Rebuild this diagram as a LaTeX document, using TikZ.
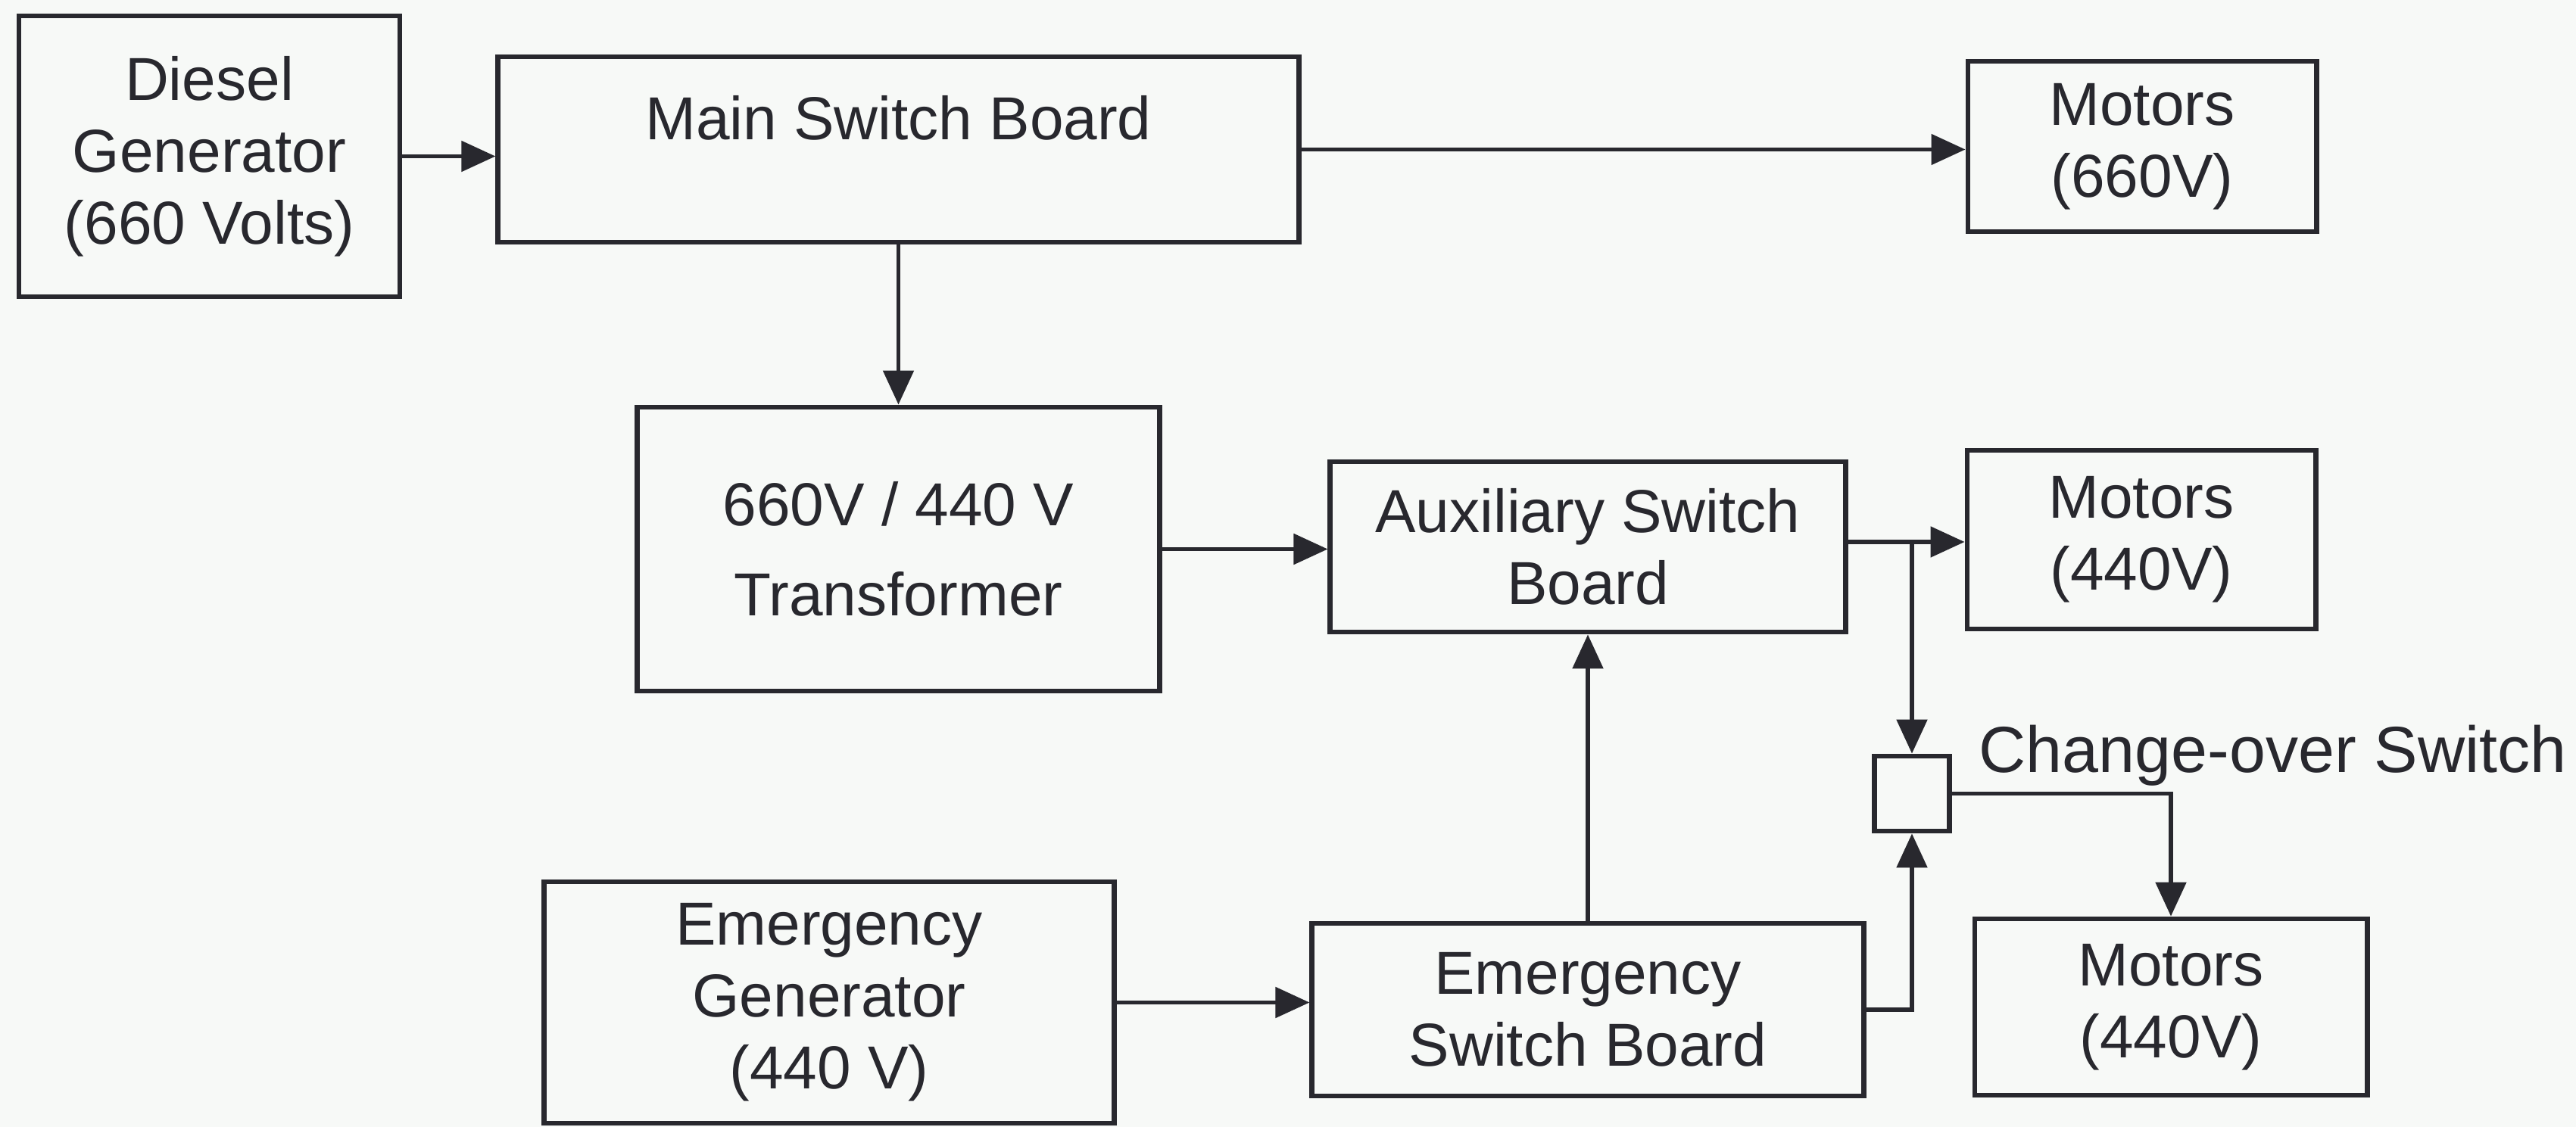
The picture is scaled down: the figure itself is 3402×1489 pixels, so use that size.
\documentclass[tikz,border=0pt]{standalone}
\usepackage{fontspec}
\setmainfont{Liberation Sans}
\usetikzlibrary{arrows.meta}
\definecolor{ink}{RGB}{40,40,46}
\definecolor{paper}{RGB}{247,249,247}
\begin{document}
\begin{tikzpicture}[x=0.01cm,y=-0.01cm,
  blk/.style={draw=ink, line width=1.9pt, inner sep=0pt, align=center, text=ink,
    font=\fontsize{22.8}{27}\selectfont},
  con/.style={draw=ink, line width=1.5pt, -{Triangle[length=0.45cm,width=0.40cm]}},
  lbl/.style={text=ink, inner sep=0pt, font=\fontsize{24.5}{29}\selectfont}
]
\fill[paper] (0,0) rectangle (3402,1489);
\useasboundingbox (0,0) rectangle (3402,1489);

% boxes
\node[blk, minimum width=5.03cm, minimum height=3.71cm] (dg) at (276.5,206.5) {Diesel\\Generator\\(660 Volts)};
\node[blk, minimum width=10.57cm, minimum height=2.45cm, text depth=0.84cm] (msb) at (1186.5,197.5) {Main Switch Board};
\node[blk, minimum width=4.60cm, minimum height=2.25cm] (m660) at (2829,193.5) {Motors\\(660V)};
\node[blk, minimum width=6.89cm, minimum height=3.75cm, font=\fontsize{22.8}{34}\selectfont] (tr) at (1186.5,725.5) {660V / 440 V\\Transformer};
\node[blk, minimum width=6.80cm, minimum height=2.25cm] (aux) at (2097,722.5) {Auxiliary Switch\\Board};
\node[blk, minimum width=4.60cm, minimum height=2.36cm] (m440a) at (2828,713) {Motors\\(440V)};
\node[blk, minimum width=0.99cm, minimum height=0.99cm] (cos) at (2525,1048.5) {};
\node[blk, minimum width=7.52cm, minimum height=3.19cm] (eg) at (1095,1324.5) {Emergency\\Generator\\(440 V)};
\node[blk, minimum width=7.28cm, minimum height=2.28cm] (esb) at (2097,1334) {Emergency\\Switch Board};
\node[blk, minimum width=5.18cm, minimum height=2.33cm] (m440b) at (2867,1330.5) {Motors\\(440V)};

\node[lbl, anchor=base west] (coslabel) at (2613,1021) {Change-over Switch};

% connectors
\coordinate (j1) at (2525,716);
\draw[con] (dg.east) -- (dg.east -| msb.west);
\draw[con] (msb.east) -- (msb.east -| m660.west);
\draw[con] (msb.south) -- (tr.north);
\draw[con] (tr.east) -- (tr.east -| aux.west);
\draw[con] (aux.east |- j1) -- (m440a.west |- j1);
\draw[con] (j1) -- (cos.north);
\draw[con] (eg.east) -- (eg.east -| esb.west);
\draw[con] (esb.north) -- (esb.north |- aux.south);
\draw[con] (esb.east) -| (cos.south);
\draw[con] (cos.east) -| (m440b.north);
\end{tikzpicture}
\end{document}
